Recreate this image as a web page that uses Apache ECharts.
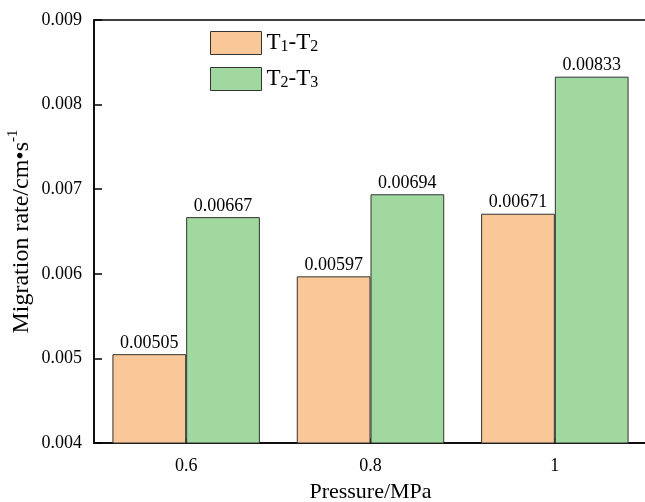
<!DOCTYPE html>
<html>
<head>
<meta charset="utf-8">
<script src="https://cdn.jsdelivr.net/npm/echarts@6/dist/echarts.min.js"></script>
<style>
html,body{margin:0;padding:0;background:#fff;}
#c{width:645px;height:502px;}
</style>
</head>
<body>
<div id="c"></div>
<script>
var categories = ['0.6', '0.8', '1'];
var seriesNames = ['T1-T2', 'T2-T3'];
var t1t2 = [0.00505, 0.00597, 0.00671];
var t2t3 = [0.00667, 0.00694, 0.00833];
var yTicks = { min: 0.004, max: 0.009, interval: 0.001 };

var font = '"Liberation Serif", "Times New Roman", serif';
var chart = echarts.init(document.getElementById('c'), null, { renderer: 'canvas' });

function subName(name) {
  var m = name.match(/^T(\d)-T(\d)$/);
  return '{a|T}{s|' + m[1] + '}{a|-T}{s|' + m[2] + '}';
}

var option = {
  animation: false,
  backgroundColor: '#fff',
  grid: {
    left: 94, top: 20, width: 553, height: 423,
    containLabel: false, outerBoundsMode: 'none',
    show: true, borderColor: '#000', borderWidth: 1.5, backgroundColor: 'transparent'
  },
  legend: {
    left: 210, top: 28, orient: 'vertical', padding: 0,
    icon: 'rect',
    itemWidth: 51, itemHeight: 23, itemGap: 9,
    itemStyle: { borderColor: '#333', borderWidth: 1 },
    data: seriesNames,
    formatter: subName,
    textStyle: {
      fontFamily: font, color: '#000', padding: [0, 0, 0, 0],
      rich: {
        a: { fontFamily: font, fontSize: 23, color: '#000', lineHeight: 24, verticalAlign: 'middle' },
        s: { fontFamily: font, fontSize: 16, color: '#000', lineHeight: 24, verticalAlign: 'bottom', padding: [11, 0, 0, 0] }
      }
    }
  },
  xAxis: {
    type: 'category',
    data: categories,
    name: 'Pressure/MPa',
    nameLocation: 'middle',
    nameGap: 38,
    nameMoveOverlap: false,
    nameTextStyle: { fontFamily: font, fontSize: 22, color: '#000' },
    axisLine: { lineStyle: { color: '#000', width: 1.5 } },
    axisTick: { show: true, inside: true, alignWithLabel: true, length: 5, lineStyle: { color: '#000', width: 1.5 } },
    axisLabel: { fontFamily: font, fontSize: 18, color: '#000', margin: 14 }
  },
  yAxis: {
    type: 'value',
    min: yTicks.min, max: yTicks.max, interval: yTicks.interval,
    name: '{a|Migration rate/cm•s}{sup|-1}',
    nameLocation: 'middle',
    nameGap: 60,
    nameMoveOverlap: false,
    nameRotate: 90,
    nameTextStyle: {
      fontFamily: font, fontSize: 24, color: '#000',
      rich: {
        a: { fontFamily: font, fontSize: 24, color: '#000', lineHeight: 28, verticalAlign: 'bottom' },
        sup: { fontFamily: font, fontSize: 15, color: '#000', lineHeight: 28, verticalAlign: 'top', padding: [0, 0, 10, 0] }
      }
    },
    splitLine: { show: false },
    axisLine: { show: true, lineStyle: { color: '#000', width: 1.5 } },
    axisTick: { show: true, inside: true, length: 8, lineStyle: { color: '#000', width: 1.5 } },
    axisLabel: {
      fontFamily: font, fontSize: 18, color: '#000', margin: 12,
      formatter: function (v) { return v.toFixed(3); }
    }
  },
  series: [
    {
      name: seriesNames[0], type: 'bar', data: t1t2,
      barGap: '0%', barCategoryGap: '20%',
      itemStyle: { color: '#FAC898', borderColor: '#333', borderWidth: 1 },
      label: { show: true, position: 'top', distance: 2, fontFamily: font, fontSize: 18, color: '#000' }
    },
    {
      name: seriesNames[1], type: 'bar', data: t2t3,
      barGap: '0%', barCategoryGap: '20%',
      itemStyle: { color: '#A0D8A0', borderColor: '#333', borderWidth: 1 },
      label: { show: true, position: 'top', distance: 2, fontFamily: font, fontSize: 18, color: '#000' }
    }
  ]
};
chart.setOption(option);
</script>
</body>
</html>
